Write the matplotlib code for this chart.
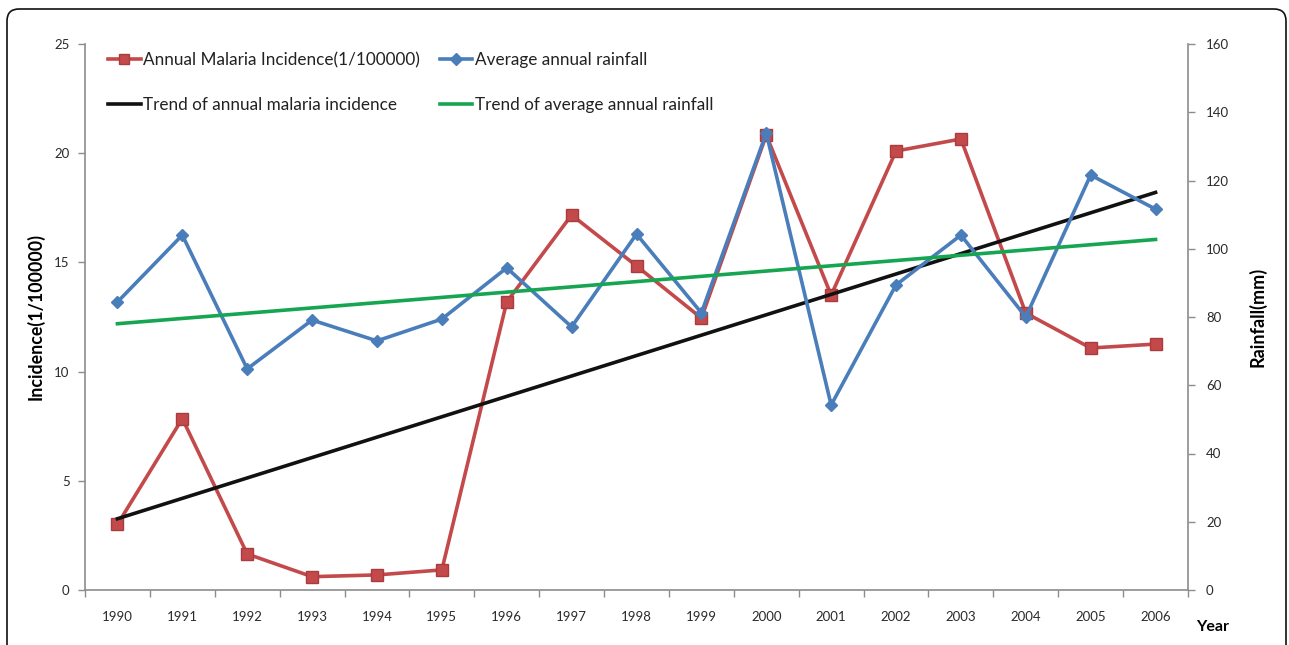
import numpy as np
import matplotlib
matplotlib.use('Agg')
import matplotlib.pyplot as plt
from matplotlib.patches import FancyBboxPatch

plt.rcParams['font.family'] = ['Lato', 'DejaVu Sans']

years = ['1990', '1991', '1992', '1993', '1994', '1995', '1996', '1997', '1998',
         '1999', '2000', '2001', '2002', '2003', '2004', '2005', '2006']
incidence = [3.0, 7.85, 1.65, 0.61, 0.69, 0.92, 13.19, 17.17, 14.84,
             12.45, 20.83, 13.5, 20.1, 20.65, 12.68, 11.08, 11.26]
rainfall = [84.4, 104.0, 64.8, 79.1, 73.0, 79.4, 94.4, 77.1, 104.3,
            81.2, 133.9, 54.2, 89.4, 104.0, 80.0, 121.6, 111.6]

RED = '#C4494B'
BLUE = '#4A7EBB'
GREEN = '#16A651'
AXIS_GRAY = '#8C8C8C'

x = np.arange(len(years))

# linear trend lines fitted to each series
inc_fit = np.polyval(np.polyfit(x, incidence, 1), x)
rain_fit = np.polyval(np.polyfit(x, rainfall, 1), x)

fig = plt.figure(figsize=(12.89, 6.45), dpi=100)
ax = fig.add_axes([85 / 1289, 1 - 590 / 645, (1188 - 85) / 1289, (590 - 44) / 645])
ax2 = ax.twinx()

h_inc, = ax.plot(x, incidence, color=RED, lw=2.6, marker='s', markersize=8.5,
                 markerfacecolor=RED, markeredgecolor='#A83C3E', mew=1,
                 label='Annual Malaria Incidence(1/100000)', zorder=3)
h_inc_tr, = ax.plot(x, inc_fit, color='#111111', lw=2.6,
                    label='Trend of annual malaria incidence', zorder=4)
h_rain, = ax2.plot(x, rainfall, color=BLUE, lw=2.6, marker='D', markersize=6.5,
                   label='Average annual rainfall', zorder=3)
h_rain_tr, = ax2.plot(x, rain_fit, color=GREEN, lw=2.6,
                      label='Trend of average annual rainfall', zorder=4)

ax.set_xlim(-0.5, len(years) - 0.5)
ax.set_ylim(0, 25)
ax2.set_ylim(0, 160)
ax.set_yticks(np.arange(0, 26, 5))
ax2.set_yticks(np.arange(0, 161, 20))

# category axis: labels centred, ticks between categories
ax.set_xticks(x)
ax.set_xticklabels(years)
ax.set_xticks(np.arange(-0.5, len(years), 1), minor=True)
ax.tick_params(axis='x', which='major', length=0, pad=15, labelsize=9.5, colors='#2a2a2a')
ax.tick_params(axis='x', which='minor', length=5, color=AXIS_GRAY, width=1)
ax.tick_params(axis='y', length=5, color=AXIS_GRAY, width=1, pad=6, labelsize=9.5,
               labelcolor='#2a2a2a')
ax2.tick_params(axis='y', length=5, color=AXIS_GRAY, width=1, pad=8, labelsize=9.5,
                labelcolor='#2a2a2a')

for a in (ax, ax2):
    a.spines['top'].set_visible(False)
    for s in ('left', 'right', 'bottom'):
        a.spines[s].set_color(AXIS_GRAY)
        a.spines[s].set_linewidth(1.2)
ax.spines['right'].set_visible(False)
ax2.spines['left'].set_visible(False)
ax2.spines['bottom'].set_visible(False)

ax.set_ylabel('Incidence(1/100000)', fontsize=12.8, fontweight='bold', labelpad=7)
ax2.set_ylabel('Rainfall(mm)', fontsize=13, fontweight='bold', labelpad=14)
fig.text(1213 / 1289, 1 - 627 / 645, 'Year', fontsize=11.5, fontweight='bold',
         ha='center', va='center')

leg = ax2.legend([h_inc, h_inc_tr, h_rain, h_rain_tr],
                 [h.get_label() for h in (h_inc, h_inc_tr, h_rain, h_rain_tr)],
                 ncol=2, frameon=False, loc='upper left', bbox_to_anchor=(0.007, 1.013),
                 fontsize=12.3, handlelength=1.9, handletextpad=0.15,
                 labelspacing=1.7, columnspacing=1.15, markerscale=0.9)
for t in leg.get_texts():
    t.set_color('#222222')

# rounded frame around the whole figure
frame = FancyBboxPatch((7, -30), 1279, 636 + 30,
                       boxstyle='round,pad=0,rounding_size=12',
                       transform=None, facecolor='none', edgecolor='#111111', lw=1.2)
fig.patches.append(frame)

fig.savefig('out.png', dpi=100)
